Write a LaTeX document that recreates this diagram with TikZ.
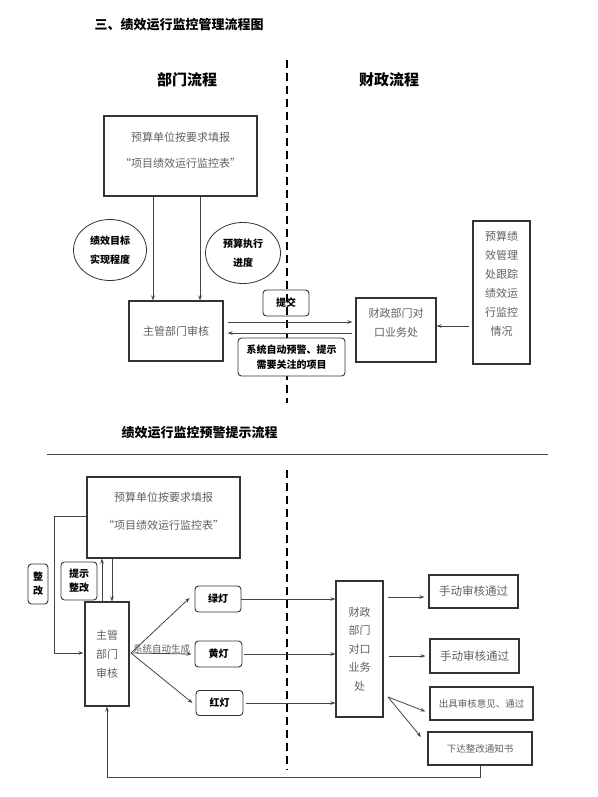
\documentclass[tikz,border=0pt]{standalone}
\usepackage{fontspec}
\setmainfont{Noto Sans CJK SC}
\usetikzlibrary{shapes.geometric,arrows.meta}
\definecolor{lc}{HTML}{333333}
\definecolor{ac}{HTML}{444444}
\definecolor{tc}{HTML}{606060}
\tikzset{
  box/.style={draw=lc, line width=1.1pt, inner sep=0pt, align=center, text=tc, font=\fontsize{11}{19}\selectfont},
  txt/.style={inner sep=0pt, align=center, text=tc, font=\fontsize{11}{19}\selectfont},
  rbox/.style={draw=lc, line width=0.9pt, rounded corners=3.5pt, inner sep=0pt, align=center, font=\bfseries\fontsize{10}{14}\selectfont},
  ell/.style={ellipse, draw=lc, line width=0.8pt, inner sep=0pt, align=center, font=\bfseries\fontsize{10}{19}\selectfont},
  arr/.style={draw=ac, line width=0.8pt, -{Stealth[length=5pt,width=3.6pt]}},
  ln/.style={draw=ac, line width=0.8pt},
  dashline/.style={draw=black, line width=1.3pt, dash pattern=on 8pt off 5pt},
  ttl/.style={inner sep=0pt, font=\bfseries\fontsize{13}{15}\selectfont},
  hdr/.style={inner sep=0pt, font=\bfseries\fontsize{15}{17}\selectfont},
}
\begin{document}
\begin{tikzpicture}[x=1pt,y=-1pt]
\useasboundingbox (0,0) rectangle (597,797);
% ---------- top part ----------
\node[ttl] (t1) at (179,25) {三、绩效运行监控管理流程图};
\node[hdr] (h1) at (187,80) {部门流程};
\node[hdr] (h2) at (389,80) {财政流程};
\coordinate (d1) at (287,60);
\coordinate (d2) at (287,403);
\draw[dashline] (d1) -- (d2);

\node[box, minimum width=153pt, minimum height=80pt] (b1) at (180.5,156) {};
\node[txt, font=\fontsize{11}{26}\selectfont] (b1t) at (180.5,150) {预算单位按要求填报\\“项目绩效运行监控表”};
\node[ell, minimum width=73pt, minimum height=61pt] (e1) at (110,250) {绩效目标\\实现程度};
\node[ell, minimum width=75pt, minimum height=61pt] (e2) at (243,253) {预算执行\\进度};
\node[box, minimum width=94pt, minimum height=60pt] (zg) at (176,331) {主管部门审核};
\node[rbox, minimum width=46pt, minimum height=26pt] (tj) at (286,303) {提交};
\node[rbox, fill=white, minimum width=107pt, minimum height=38pt, font=\bfseries\fontsize{10}{15}\selectfont] (xt) at (291.5,357) {系统自动预警、提示\\需要关注的项目};
\node[box, minimum width=80pt, minimum height=64pt] (cz) at (396,330) {};
\node[txt] (czt) at (396,323) {财政部门对\\口业务处};
\node[box, minimum width=57pt, minimum height=143pt] (gz) at (501.5,292.5) {};
\node[txt] (gzt) at (501.5,283.5) {预算绩\\效管理\\处跟踪\\绩效运\\行监控\\情况};

\coordinate (c1) at (153,0);
\coordinate (c2) at (200,0);
\draw[arr] (b1.south -| c1) -- (zg.north -| c1);
\draw[arr] (b1.south -| c2) -- (zg.north -| c2);
\coordinate (r1) at (0,322);
\coordinate (r2) at (0,333);
\coordinate (r3) at (0,326);
\draw[arr] ([xshift=4pt]zg.east |- r1) -- ([xshift=-3pt]cz.west |- r1);
\draw[arr] ([xshift=-3pt]cz.west |- r2) -- ([xshift=4pt]zg.east |- r2);
\draw[arr] ([xshift=-3pt]gz.west |- r3) -- (cz.east |- r3);

% ---------- bottom part ----------
\node[ttl] (t2) at (199.5,433) {绩效运行监控预警提示流程};
\coordinate (hl1) at (47,454);
\coordinate (hl2) at (548,454);
\draw[ln, line width=1pt] (hl1) -- (hl2);
\coordinate (d3) at (287,470);
\coordinate (d4) at (287,770);
\draw[dashline] (d3) -- (d4);

\node[box, minimum width=153pt, minimum height=81pt] (B1) at (163.5,517.5) {};
\node[txt, font=\fontsize{11}{28}\selectfont] (B1t) at (163.5,511) {预算单位按要求填报\\“项目绩效运行监控表”};
\node[rbox, minimum width=20pt, minimum height=40pt] (zgai) at (38,584) {整\\改};
\node[rbox, minimum width=36pt, minimum height=38pt] (tsz) at (79,581) {提示\\整改};
\node[box, minimum width=44pt, minimum height=104pt] (zg2) at (107,654) {主管\\部门\\审核};

\coordinate (L1) at (54,516);
\coordinate (L2) at (0,653);
\draw[arr] (B1.west |- L1) -- (L1) |- ([xshift=-1pt]zg2.west |- L2);
\coordinate (v1) at (102,0);
\coordinate (v2) at (112,0);
\draw[arr] (zg2.north -| v1) -- (B1.south -| v1);
\draw[arr] (B1.south -| v2) -- (zg2.north -| v2);

\node[rbox, minimum width=46pt, minimum height=26pt] (lv) at (218,599) {绿灯};
\node[rbox, minimum width=47pt, minimum height=26pt] (hd) at (218.5,654) {黄灯};
\node[rbox, minimum width=47pt, minimum height=25pt] (hg) at (219.5,703) {红灯};

\coordinate (f0) at (131,653);
\draw[arr] (f0) -- ([xshift=-5pt,yshift=1pt]lv.west);
\draw[arr] (f0) -- ([xshift=-3pt]hd.west);
\draw[arr] (f0) -- ([xshift=-3pt]hg.west);
\node[inner sep=0.5pt, anchor=south, text=tc, font=\fontsize{9.5}{11}\selectfont] (zdsc) at (161.5,654) {系统自动生成};

\node[box, minimum width=47pt, minimum height=136pt, font=\fontsize{11}{18.5}\selectfont] (cz2) at (359.5,649) {财政\\部门\\对口\\业务\\处};

\draw[arr] (lv.east) -- (lv.east -| cz2.west);
\draw[arr] ([xshift=2pt]hd.east) -- (hd.east -| cz2.west);
\draw[arr] ([xshift=3pt]hg.east) -- (hg.east -| cz2.west);

\node[box, minimum width=89pt, minimum height=33pt, font=\fontsize{11.5}{13}\selectfont] (o1) at (473.5,591.5) {手动审核通过};
\node[box, minimum width=89pt, minimum height=34pt, font=\fontsize{11.5}{13}\selectfont] (o2) at (474.5,656) {手动审核通过};
\node[box, minimum width=103pt, minimum height=33pt, font=\fontsize{9.5}{11}\selectfont] (o3) at (481.5,703.5) {出具审核意见、通过};
\node[box, minimum width=104pt, minimum height=33pt, font=\fontsize{9.5}{11}\selectfont] (o4) at (480,748.5) {下达整改通知书};

\coordinate (s1) at (388,597);
\coordinate (s2) at (389,656);
\coordinate (s3) at (388,697);
\coordinate (s4) at (421,737);
\draw[arr] (s1) -- ([xshift=-4pt]o1.west |- s1);
\draw[arr] (s2) -- ([xshift=-4pt]o2.west |- s2);
\draw[arr] (s3) -- ([xshift=-4pt,yshift=-8pt]o3.west);
\draw[arr] (s3) -- (s4);

\coordinate (fb) at (0,777);
\draw[arr] (o4.south) -- (o4.south |- fb) -| (zg2.south);
\end{tikzpicture}
\end{document}
